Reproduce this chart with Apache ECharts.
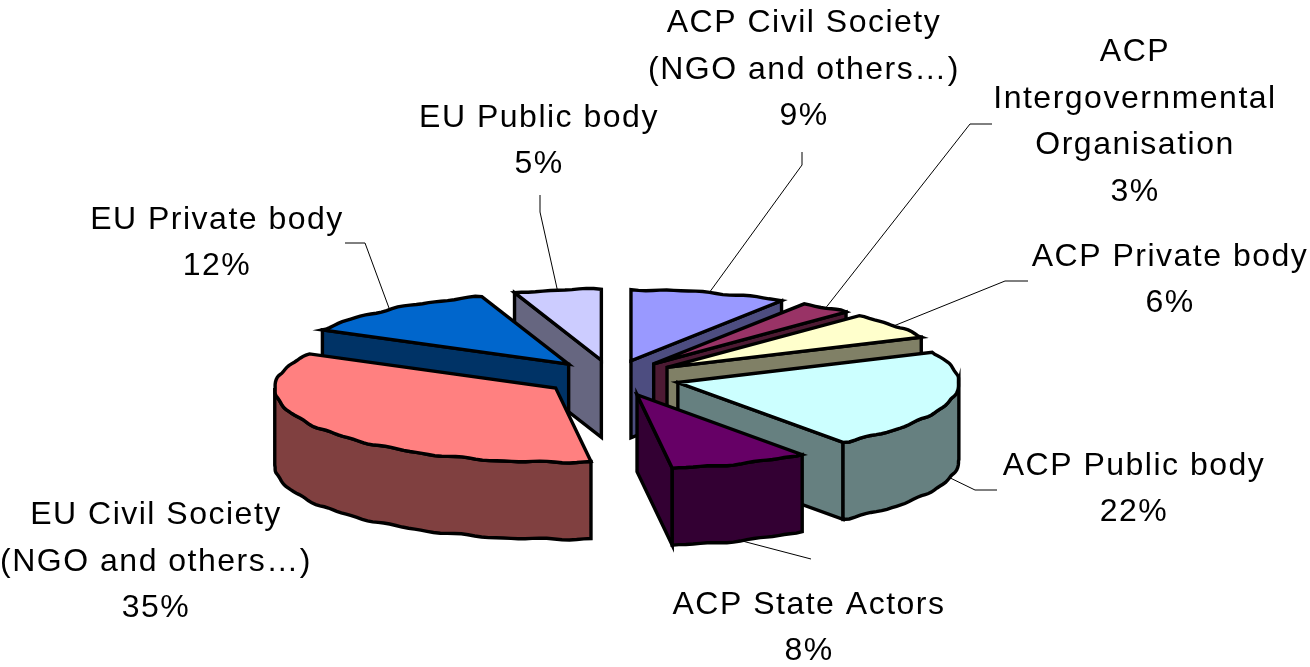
<!DOCTYPE html>
<html><head><meta charset="utf-8">
<style>html,body{margin:0;padding:0;background:#fff}#c{width:1310px;height:667px}</style>
<script src="https://cdn.jsdelivr.net/npm/echarts@6/dist/echarts.min.js"></script>
</head><body><div id="c"></div>
<script>
// ---- data ----
const categories = ['ACP Civil Society\n(NGO and others…)','ACP\nIntergovernmental\nOrganisation','ACP Private body','ACP Public body','ACP State Actors','EU Civil Society\n(NGO and others…)','EU Private body','EU Public body'];
const shares = [9,3,6,22,8,35,12,5];
// ---- style ----
const topColors  = ['#9999FF','#993366','#FFFFCC','#CCFFFF','#660066','#FF8080','#0066CC','#CCCCFF'];
const wallColors = ['#4D4D80','#4D1A33','#808066','#668080','#330033','#804040','#003366','#666680'];
const drawOrder  = [7,0,1,2,6,3,4,5];
// ---- layout ----
const pie = {cx:612, cy:378, a:281, bBack:71, bFront:74, depth:77, ex:68, ey:18};
const labelCenter = [[804,70],[1135,122],[1170,280],[1134,489],[809,628],[156,562],[217,243],[539,141]];
const leaderPath = [[[802,165],[802,152]],[[970,124],[992,124]],[[1005,281],[1028,281]],[[975,490],[997,490]],[[811,559]],[],[[365,243],[345,243]],[[540,212],[540,195]]];
const FONT = 32, LINE = 46.5, TRACKING = '1.5px';

// Canvas letter spacing for the labels: the reference text is set wide.
const nativeGetContext = HTMLCanvasElement.prototype.getContext;
HTMLCanvasElement.prototype.getContext = function(){
  const ctx = nativeGetContext.apply(this, arguments);
  if (ctx && 'letterSpacing' in ctx) ctx.letterSpacing = TRACKING;
  return ctx;
};

const total = shares.reduce((s,v)=>s+v,0);
let acc = 0;
const spans = shares.map(v=>{const s=acc; acc+=v; return [s/total*360,acc/total*360];});
const R = Math.PI/180;
function apexOf(i){const m=(spans[i][0]+spans[i][1])/2*R;
  return [pie.cx+pie.ex*Math.sin(m), pie.cy-pie.ey*Math.cos(m)];}
function rim(A,deg,wobble){const t=deg*R,c=Math.cos(t);
  const x=A[0]+pie.a*Math.sin(t), y=A[1]-(c>0?pie.bBack:pie.bFront)*c;
  if(!wobble) return [x,y];
  return [x+0.4*Math.sin(t*31), y+0.6*Math.sin(t*23)+0.4*Math.sin(t*41)];}
function arc(A,from,to){const pts=[],n=Math.max(2,Math.ceil((to-from)/1.5));
  for(let k=0;k<=n;k++){const d=from+(to-from)*k/n;pts.push(rim(A,d,k>0&&k<n));}return pts;}
const drop=p=>[p[0],p[1]+pie.depth];

function wallVisible(A,E,I){ if(Math.abs(E[0]-A[0])<1) return false;
  return I[1] < A[1]+(E[1]-A[1])*(I[0]-A[0])/(E[0]-A[0]); }

const stroke={stroke:'#000',lineWidth:3.4,lineJoin:'miter'};
function renderItem(params,api){
  const i=params.dataIndex, [s,e]=spans[i], A=apexOf(i), base=(drawOrder.indexOf(i)+1)*10;
  const kids=[];
  const poly=(pts,fill,z)=>kids.push({type:'polygon',shape:{points:pts},style:Object.assign({fill},stroke),z2:base+z});
  const mid=(s+e)/2, I=rim(A,mid), Rs=rim(A,s), Re=rim(A,e);
  if(wallVisible(A,Rs,I)) poly([A,Rs,drop(Rs),drop(A)],wallColors[i],0);
  if(wallVisible(A,Re,I)) poly([A,Re,drop(Re),drop(A)],wallColors[i],0);
  const f=Math.max(s,90), t=Math.min(e,270);
  if(t>f){const o=arc(A,f,t); poly(o.concat(o.slice().reverse().map(drop)),wallColors[i],1);}
  poly([A].concat(arc(A,s,e)),topColors[i],2);
  if(leaderPath[i].length){
    let st=rim(A,mid); if(Math.cos(mid*R)<0) st=drop(st);
    kids.push({type:'polyline',shape:{points:[st].concat(leaderPath[i])},style:{stroke:'#000',lineWidth:1,fill:null},z2:300});
  }
  kids.push({type:'text',x:labelCenter[i][0],y:labelCenter[i][1],z2:400,style:{
    text:categories[i]+'\n'+api.value(1)+'%',fill:'#000',align:'center',verticalAlign:'middle',
    font:FONT+'px "Liberation Sans", Arial, sans-serif',lineHeight:LINE}});
  return {type:'group',children:kids};
}
const chart=echarts.init(document.getElementById('c'),null,{renderer:'canvas'});
chart.setOption({animation:false,backgroundColor:'#fff',
  series:[{type:'custom',coordinateSystem:'none',silent:true,renderItem,
    data:shares.map((v,i)=>({name:categories[i],value:[i,v]}))}]});
</script></body></html>
